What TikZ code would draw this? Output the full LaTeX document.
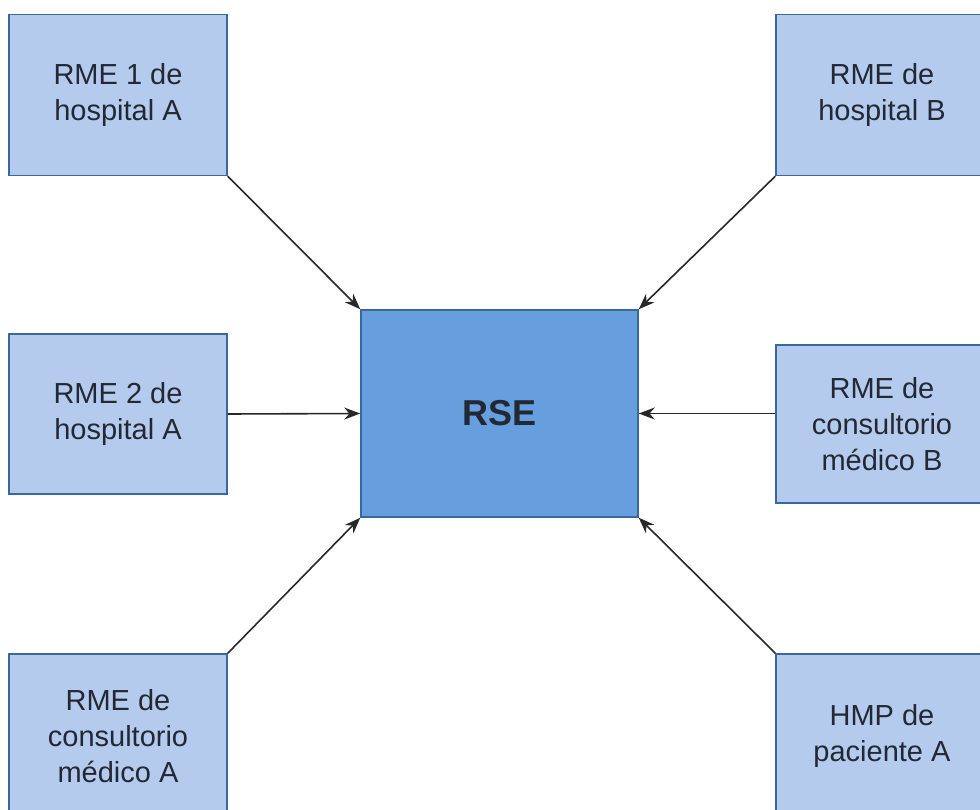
\documentclass[tikz,border=0pt]{standalone}
\usepackage{fontspec}
\setmainfont{Liberation Sans}
\usetikzlibrary{arrows.meta}
\definecolor{boxfill}{RGB}{180,203,238}
\definecolor{hubfill}{RGB}{102,158,222}
\definecolor{boxline}{RGB}{58,104,158}
\definecolor{inkc}{RGB}{34,40,52}
\definecolor{arrc}{RGB}{40,40,40}
\tikzset{
  srcbox/.style={draw=boxline, fill=boxfill, line width=1.5pt, rectangle,
    inner sep=0pt, align=center, text=inkc,
    font=\fontsize{29}{36}\selectfont},
  hubbox/.style={draw=boxline, fill=hubfill, line width=1.5pt, rectangle,
    inner sep=0pt, align=center, text=inkc,
    font=\fontsize{36}{40}\selectfont\bfseries},
  feed/.style={draw=arrc, line width=1.6pt,
    -{Stealth[length=16pt,width=12pt]}}
}
\begin{document}
\begin{tikzpicture}[x=1pt, y=-1pt]
\useasboundingbox (0,0) rectangle (980,810);
% central record
\node[hubbox, minimum width=277pt, minimum height=207pt] (rse) at (499.5,413.5) {RSE};
% left column
\node[srcbox, minimum width=218pt, minimum height=161pt] (h1) at (118,95) {RME 1 de\\hospital A};
\node[srcbox, minimum width=218pt, minimum height=160pt] (h2) at (118,414) {RME 2 de\\hospital A};
\node[srcbox, minimum width=218pt, minimum height=164pt] (ca) at (118,736) {RME de\\consultorio\\médico A};
% right column
\node[srcbox, minimum width=212pt, minimum height=161pt] (hb) at (882,95) {RME de\\hospital B};
\node[srcbox, minimum width=212pt, minimum height=158pt] (cb) at (882,424) {RME de\\consultorio\\médico B};
\node[srcbox, minimum width=212pt, minimum height=164pt] (pa) at (882,736) {HMP de\\paciente A};
% connectors into the central record
\draw[feed] (h1.south east) -- (rse.north west);
\draw[feed] (h2.east) -- (rse.west);
\draw[feed] (ca.north east) -- (rse.south west);
\draw[feed] (hb.south west) -- (rse.north east);
\draw[feed] (cb.west |- rse.east) -- (rse.east);
\draw[feed] (pa.north west) -- (rse.south east);
\end{tikzpicture}
\end{document}
